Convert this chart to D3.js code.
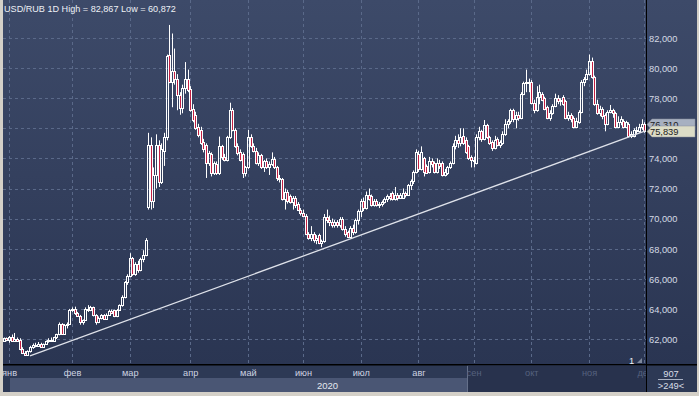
<!DOCTYPE html>
<html>
<head>
<meta charset="utf-8">
<script src="https://cdnjs.cloudflare.com/ajax/libs/d3/7.8.5/d3.min.js"></script>
<style>
body { margin: 0; background: #d4d0c8; }
svg { display: block; font-family: "Liberation Sans", Arial, sans-serif; }
</style>
</head>
<body>
<svg id="chart" width="699" height="396"></svg>
<script>
// USD/RUB daily candles, [open, high, low, close], one array per month
var dec19 = [[61.90,62.10,61.80,62.05],[62.05,62.10,61.85,61.95]];
var jan = [[61.95,62.20,61.75,62.10],[62.10,62.30,61.80,61.85],[61.85,62.40,61.80,62.00],[62.00,62.10,61.80,61.90],
  [61.95,62.05,61.25,61.35],[61.35,61.45,61.00,61.10],[61.10,61.20,60.872,60.95],[60.95,61.25,60.90,61.20],
  [61.20,61.55,61.10,61.45],[61.45,61.70,61.35,61.60],[61.60,61.75,61.45,61.55],[61.55,61.80,61.50,61.70],
  [61.70,61.75,61.45,61.50],[61.50,61.70,61.40,61.65],[61.65,61.90,61.60,61.85],[61.85,62.05,61.75,61.95],
  [61.95,62.10,61.80,61.85],[61.85,62.15,61.80,62.10],[62.10,62.35,62.00,62.30],[62.30,63.10,62.25,63.00],
  [63.00,63.05,62.30,62.35],[62.35,63.00,62.30,62.90],[62.90,63.10,62.70,63.00],[63.00,64.00,62.95,63.90]];
var feb = [[63.90,64.10,63.80,64.00],[64.00,64.15,63.60,63.70],[63.70,63.80,63.50,63.55],[63.55,63.60,62.95,63.15],
  [63.15,63.30,62.95,63.25],[63.25,64.10,63.20,64.00],[64.00,64.25,63.80,63.95],[63.95,64.20,63.85,64.10],
  [64.10,64.15,63.50,63.60],[63.60,63.65,62.95,63.15],[63.15,63.50,63.05,63.40],[63.40,63.65,63.30,63.60],
  [63.60,63.65,63.30,63.35],[63.35,63.70,63.30,63.60],[63.60,63.95,63.55,63.85],[63.85,63.95,63.65,63.75],
  [63.90,63.95,63.45,63.50],[63.50,64.00,63.45,63.95],[63.95,64.30,63.90,64.25],[64.25,64.90,64.15,64.80],
  [64.80,65.85,64.70,65.80],[65.80,66.30,65.60,66.20]];
var mar = [[66.20,67.70,66.10,67.35],[67.35,67.45,66.20,66.30],[66.30,67.10,66.20,67.00],[67.00,67.20,66.40,66.60],
  [66.60,67.40,66.50,67.30],[67.30,67.90,67.10,67.60],[67.60,68.70,67.50,68.60],[70.80,75.70,70.60,74.90],
  [74.90,75.40,70.60,71.20],[71.20,73.40,70.70,72.90],[72.90,75.60,72.00,74.90],[74.90,75.20,72.10,72.40],
  [72.40,75.00,72.30,74.60],[74.50,75.70,73.50,75.40],[75.40,80.90,75.20,80.80],[80.85,82.867,79.00,79.10],
  [79.10,82.30,77.40,79.80],[79.80,81.30,78.90,79.30],[79.30,79.60,77.20,78.20],[78.20,78.40,76.90,77.35],
  [77.35,78.90,77.00,78.70],[78.70,80.40,78.30,79.30],[79.30,79.90,78.40,78.55]];
var apr = [[78.60,78.80,77.10,77.20],[77.30,77.60,76.40,76.55],[76.90,77.10,75.90,76.00],[76.10,76.30,75.40,75.55],
  [75.90,76.10,74.90,75.00],[75.10,75.30,74.40,74.60],[74.90,75.00,72.70,73.70],[73.70,74.50,73.50,74.35],
  [74.30,74.40,72.80,73.00],[73.00,73.80,72.90,73.70],[73.60,73.80,72.90,73.00],[73.00,75.45,72.90,74.80],
  [74.80,74.90,73.90,74.10],[74.10,74.30,73.80,73.90],[73.90,75.50,73.80,75.45],[75.45,77.70,75.30,77.20],
  [77.20,77.35,75.80,75.90],[75.90,76.00,74.70,74.80],[74.80,75.00,74.20,74.35],[74.45,74.60,73.80,73.90],
  [74.30,74.40,72.70,73.00],[73.00,73.50,72.80,73.45]];
var may = [[73.45,75.90,73.30,75.40],[75.40,75.60,74.70,74.80],[74.80,75.00,74.40,74.50],[74.50,74.70,73.60,73.70],
  [73.70,74.40,73.50,74.20],[74.20,74.30,73.30,73.40],[73.40,73.90,73.10,73.80],[73.80,74.00,73.30,73.40],
  [73.40,73.80,72.90,73.60],[73.60,74.40,73.50,73.95],[73.95,74.10,73.30,73.40],[73.40,73.50,72.50,72.70],
  [72.70,72.90,72.40,72.60],[72.60,72.70,71.20,71.30],[71.30,72.00,70.60,71.80],[71.80,71.90,71.00,71.20],
  [71.50,71.60,71.00,71.10],[71.10,71.50,70.60,71.40],[71.40,71.50,70.70,70.90],[71.00,71.10,70.50,70.60],
  [70.60,70.70,70.20,70.40]];
var jun = [[70.40,70.60,70.10,70.20],[70.20,70.30,68.90,69.00],[69.00,69.10,68.60,68.70],[68.70,69.50,68.50,69.00],
  [69.00,69.10,68.40,68.60],[68.60,68.90,68.30,68.70],[68.90,69.00,68.30,68.40],[68.40,68.60,68.10,68.50],
  [68.50,70.30,68.40,70.10],[70.10,70.60,69.70,69.90],[69.90,70.20,69.50,69.80],[69.80,70.00,69.40,69.60],
  [69.60,69.90,69.40,69.80],[69.80,69.90,69.40,69.60],[69.60,70.10,69.40,70.00],[70.00,70.10,69.20,69.30],
  [69.30,69.50,68.80,69.00],[69.10,69.20,68.70,68.80],[68.80,69.50,68.70,69.40],[69.40,69.60,68.90,69.10],
  [69.10,70.00,69.00,69.90],[69.90,70.60,69.60,70.50]];
var jul = [[70.50,71.30,70.10,71.20],[71.20,71.40,70.50,70.70],[70.70,71.80,70.60,71.60],[71.60,72.00,71.20,71.30],
  [71.50,71.60,70.80,70.90],[70.90,71.30,70.80,71.20],[71.20,71.30,70.80,70.90],[70.90,71.10,70.70,71.00],
  [71.00,71.20,70.80,71.10],[71.10,71.40,71.00,71.30],[71.30,71.60,71.10,71.50],[71.50,71.70,71.20,71.40],
  [71.70,71.80,71.20,71.30],[71.30,72.10,71.20,71.60],[71.60,71.70,71.20,71.40],[71.40,71.70,71.30,71.60],
  [71.40,72.00,71.30,71.70],[71.70,71.80,71.40,71.60],[71.60,72.30,71.50,72.20],[72.20,72.60,71.90,72.50],
  [72.50,73.20,72.30,73.10],[73.10,74.60,73.00,74.45]];
var aug = [[74.30,74.50,73.10,73.30],[73.30,74.80,73.20,74.40],[74.00,74.10,72.80,73.10],[73.50,73.60,73.00,73.05],
  [73.10,74.10,73.00,73.80],[73.80,74.00,73.40,73.60],[73.70,73.80,73.00,73.10],[73.10,74.00,73.00,73.70],
  [73.70,73.90,73.30,73.50],[73.70,73.80,72.80,72.90],[72.90,73.30,72.80,73.10],[73.00,73.50,72.90,73.45],
  [73.45,73.80,73.30,73.70],[73.70,75.00,73.60,74.80],[74.80,75.50,74.60,75.20],[75.20,75.60,74.70,75.00],
  [75.00,76.00,74.80,75.40],[75.50,76.00,74.90,75.00],[75.20,75.40,74.30,74.40],[74.80,74.90,73.90,74.00],
  [74.10,74.20,73.40,73.90]];
var sep = [[73.90,74.10,73.40,73.80],[73.70,75.60,73.60,75.40],[75.40,76.10,75.20,75.80],[75.80,75.90,75.10,75.30],
  [75.30,76.55,75.20,76.20],[76.20,76.30,75.30,75.40],[75.40,75.50,74.90,75.00],[75.10,75.20,74.50,74.70],
  [74.70,75.50,74.60,75.20],[75.30,75.40,74.80,74.90],[74.90,75.20,74.70,75.10],[75.00,75.80,74.90,75.65],
  [75.65,76.60,75.50,76.30],[76.30,76.60,76.00,76.50],[76.50,77.30,76.30,77.20],[77.20,77.30,76.40,76.60],
  [76.60,77.10,76.00,76.90],[76.90,77.10,76.50,76.70],[76.70,78.40,76.60,78.30],[78.30,79.10,78.20,79.00],
  [79.00,79.90,78.40,79.10],[79.10,79.30,78.40,79.00]];
var oct = [[79.10,79.20,77.60,77.70],[77.70,77.90,77.00,77.20],[77.20,78.80,77.10,78.10],[78.10,78.90,77.60,78.40],
  [78.30,78.40,77.80,77.90],[78.00,78.10,77.20,77.30],[77.40,77.50,76.60,76.70],[76.70,77.20,76.50,77.00],
  [77.00,77.60,76.90,77.50],[77.50,78.30,77.40,78.00],[78.00,78.20,77.60,77.80],[77.80,78.00,77.50,77.90],
  [78.10,78.20,77.50,77.60],[77.80,77.90,76.60,76.70],[76.70,77.10,76.50,76.90],[76.90,77.00,76.40,76.60],
  [76.70,76.80,76.00,76.10],[76.10,76.70,76.00,76.50],[76.40,77.20,76.30,77.10],[77.10,79.20,77.00,79.10],
  [79.10,79.40,78.80,79.30],[79.30,79.90,79.20,79.60]];
var nov = [[79.60,80.90,79.50,80.50],[80.50,80.70,79.30,79.40],[79.40,79.50,77.50,77.60],[77.60,77.90,76.90,77.00],
  [77.00,77.50,76.80,77.30],[77.30,77.40,76.60,76.80],[76.90,77.00,75.80,76.30],[76.30,77.20,76.20,77.10],
  [77.10,77.55,77.00,77.20],[77.20,77.30,76.70,77.00],[77.00,77.10,76.00,76.10],[76.10,76.80,76.00,76.40],
  [76.40,76.80,76.20,76.60],[76.50,76.60,76.00,76.10],[76.10,76.50,76.00,76.40],[76.30,76.40,75.40,75.50],
  [75.50,75.80,75.35,75.60],[75.50,76.00,75.40,75.90],[75.90,76.10,75.60,75.80],[75.80,76.30,75.70,76.10],
  [76.10,76.60,75.90,76.31]];
var dec20 = [[76.31,76.40,75.70,75.839]];

var monthNames = ["янв","фев","мар","апр","май","июн","июл","авг","сен","окт","ноя","дек"];
var monthRows = [jan, feb, mar, apr, may, jun, jul, aug, sep, oct, nov, dec20];
var dimFrom = 8; // months from "сен" are drawn dimmed
var yTicks = [62, 64, 66, 68, 70, 72, 74, 76, 78, 80, 82];
var title = "USD/RUB 1D  High = 82,867  Low = 60,872";
var yearLabel = "2020";
var priceTags = [{v: 76.310, fill: "#a7b0c1"}, {v: 75.839, fill: "#dcdcc6"}];
var trendLine = [{i: 10, v: 60.872}, {i: 244, v: 75.839}]; // bar index, price
var statusTop = "907", statusBottom = ">249<";

// flatten into one bar list, remember where each month starts
var bars = [];
dec19.forEach(function(r){ bars.push(r); });
var monthStart = [];
monthRows.forEach(function(rows){
  monthStart.push(bars.length);
  rows.forEach(function(r){ bars.push(r); });
});

var W = 699, H = 396;
var plotL = 3, plotR = 646, plotB = 365, frameR = 697, frameB = 392;

var svg = d3.select("#chart");
var defs = svg.append("defs");
var grad = defs.append("linearGradient").attr("id", "bg").attr("x1", 0).attr("y1", 0).attr("x2", 0).attr("y2", 1);
grad.append("stop").attr("offset", "0%").attr("stop-color", "#3d4a69");
grad.append("stop").attr("offset", "100%").attr("stop-color", "#2a3552");
defs.append("clipPath").attr("id", "plotclip").append("rect")
  .attr("x", plotL).attr("y", 0).attr("width", plotR - plotL).attr("height", frameB);

// frame + backgrounds
svg.append("rect").attr("width", W).attr("height", H).attr("fill", "#d4d0c8");
svg.append("rect").attr("x", plotL).attr("y", 0).attr("width", frameR - plotL).attr("height", plotB)
  .attr("fill", "url(#bg)");
svg.append("rect").attr("x", plotL).attr("y", plotB).attr("width", frameR - plotL).attr("height", frameB - plotB)
  .attr("fill", "#2d3955");

var x = d3.scaleBand().domain(d3.range(bars.length)).range([plotL, plotR]);
var y = d3.scaleLinear().domain([62, 82]).range([339, 38]);
function cx(i){ return Math.floor(x(i) + x.bandwidth() / 2); }

// grid
var grid = svg.append("g").attr("stroke", "#5a6989").attr("stroke-dasharray", "3,3").attr("stroke-width", 1);
grid.selectAll(".hg").data(yTicks).enter().append("line")
  .attr("x1", plotL).attr("x2", plotR)
  .attr("y1", function(d){ return Math.round(y(d)) + 0.5; })
  .attr("y2", function(d){ return Math.round(y(d)) + 0.5; });
grid.selectAll(".vg").data(monthStart).enter().append("line")
  .attr("x1", function(d){ return cx(d) + 0.5; }).attr("x2", function(d){ return cx(d) + 0.5; })
  .attr("y1", 0).attr("y2", plotB);

// candles
var candles = svg.append("g").attr("clip-path", "url(#plotclip)");
var c = candles.selectAll("g").data(bars).enter().append("g");
c.append("line")
  .attr("x1", function(d, i){ return cx(i) + 0.5; }).attr("x2", function(d, i){ return cx(i) + 0.5; })
  .attr("y1", function(d){ return y(d[1]); })
  .attr("y2", function(d){ return Math.round(y(Math.max(d[0], d[3]))); })
  .attr("stroke", "#fff");
c.append("line")
  .attr("x1", function(d, i){ return cx(i) + 0.5; }).attr("x2", function(d, i){ return cx(i) + 0.5; })
  .attr("y1", function(d){ return Math.round(y(Math.min(d[0], d[3]))) + 1; })
  .attr("y2", function(d){ return y(d[2]); })
  .attr("stroke", "#fff");
c.append("rect")
  .attr("x", function(d, i){ return cx(i) - 0.5; })
  .attr("width", 2)
  .attr("y", function(d){ return Math.round(y(Math.max(d[0], d[3]))) + 0.5; })
  .attr("height", function(d){
    return Math.max(1, Math.round(y(Math.min(d[0], d[3]))) - Math.round(y(Math.max(d[0], d[3]))));
  })
  .attr("fill", function(d){ return d[3] < d[0] ? "#c21f42" : "none"; })
  .attr("stroke", "#fff").attr("stroke-width", 1);

// trend line
svg.append("line")
  .attr("x1", cx(trendLine[0].i)).attr("y1", y(trendLine[0].v))
  .attr("x2", cx(trendLine[1].i) + 2).attr("y2", y(trendLine[1].v))
  .attr("stroke", "#dfe2ea").attr("stroke-width", 1.3);

// separators
svg.append("rect").attr("x", plotR).attr("y", 0).attr("width", 1).attr("height", frameB).attr("fill", "#000");
svg.append("rect").attr("x", plotL).attr("y", plotB - 1).attr("width", frameR - plotL).attr("height", 1.5).attr("fill", "#000");

// right price axis
var ruFmt = d3.formatLocale({decimal: ",", thousands: " ", grouping: [3], currency: ["", ""]}).format(".3f");
var yAxis = svg.append("g").attr("transform", "translate(" + (plotR + 1) + ",0)")
  .call(d3.axisRight(y).tickValues(yTicks).tickFormat(ruFmt).tickSize(0).tickPadding(2));
yAxis.select(".domain").remove();
yAxis.selectAll("text").attr("fill", "#d5dae5").attr("font-size", "9.3px")
  .attr("font-family", "'Liberation Sans', Arial, sans-serif").attr("dy", "3.3px");

// price tags
priceTags.forEach(function(t){
  var yy = Math.round(y(t.v)) + 0.5;
  svg.append("path")
    .attr("d", "M" + (plotR + 1) + "," + yy + "L" + (plotR + 6) + "," + (yy - 5.5) + "H695V" + (yy + 5.5) + "H" + (plotR + 6) + "Z")
    .attr("fill", t.fill).attr("stroke", "#8a8f9a").attr("stroke-width", 0.5);
  svg.append("text").attr("x", 650).attr("y", yy + 3.6).text(ruFmt(t.v))
    .attr("fill", "#1b1b1b").attr("font-size", "9.3px");
});

// bottom time axis
svg.append("rect").attr("x", 10).attr("y", 378).attr("width", 457).attr("height", frameB - 378).attr("fill", "#4a5674");
svg.append("rect").attr("x", 467).attr("y", plotB + 0.5).attr("width", plotR - 467).attr("height", frameB - plotB - 0.5)
  .attr("fill", "#28324d");
svg.append("line").attr("x1", 467.5).attr("x2", 467.5).attr("y1", plotB + 1).attr("y2", frameB)
  .attr("stroke", "#65708a");

var xAxis = svg.append("g").attr("transform", "translate(0," + plotB + ")").attr("clip-path", "url(#plotclip)")
  .call(d3.axisBottom(x).tickValues(monthStart).tickFormat(function(d, k){ return monthNames[k]; })
    .tickSize(0).tickPadding(2));
xAxis.select(".domain").remove();
xAxis.selectAll("text")
  .attr("y", 11).attr("dy", 0)
  .attr("font-size", "9.2px").attr("font-family", "'Liberation Sans', Arial, sans-serif")
  .attr("fill", function(d, k){ return k >= dimFrom ? "#56627f" : "#cdd4e2"; });

svg.append("text").attr("x", (cx(monthStart[0]) + plotR) / 2).attr("y", 388.5)
  .attr("text-anchor", "middle").attr("fill", "#e4e8ef").attr("font-size", "9.5px").text(yearLabel);

// status box, bottom right
svg.append("text").attr("x", 671).attr("y", 377).attr("text-anchor", "middle")
  .attr("fill", "#d8dde7").attr("font-size", "9.3px").text(statusTop);
svg.append("line").attr("x1", 658).attr("x2", 683).attr("y1", 379.5).attr("y2", 379.5).attr("stroke", "#aab2c4");
svg.append("text").attr("x", 671).attr("y", 388.5).attr("text-anchor", "middle")
  .attr("fill", "#d8dde7").attr("font-size", "9.3px").text(statusBottom);

// little "1" marker in the corner
svg.append("text").attr("x", 629).attr("y", 363.5).attr("fill", "#eef1f6").attr("font-size", "9.3px").text("1");
svg.append("path").attr("d", "M637,363L642,363L642,358Z").attr("fill", "#7d879b");

// title
svg.append("text").attr("x", 4).attr("y", 11.5).attr("fill", "#eef1f6").attr("font-size", "9.1px")
  .attr("xml:space", "preserve").text(title.replace(/  /g, " "));
</script>
</body>
</html>
